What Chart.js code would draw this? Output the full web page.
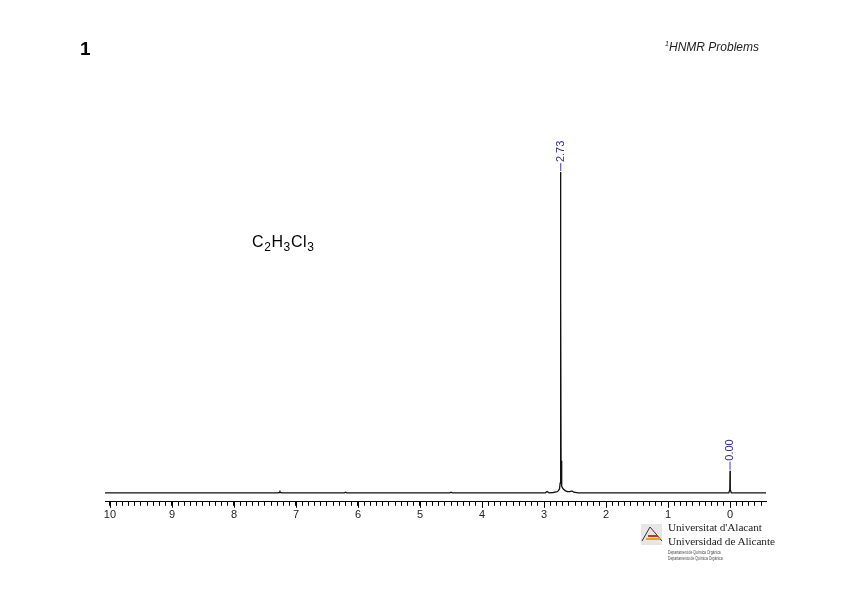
<!DOCTYPE html>
<html>
<head>
<meta charset="utf-8">
<script src="https://cdn.jsdelivr.net/npm/chart.js@4"></script>
<style>
  body { margin: 0; background: #fff; font-family: "Liberation Sans", Arial, sans-serif; }
  #wrap { position: relative; width: 848px; height: 600px; }
  canvas { position: absolute; left: 0; top: 0; }
  .txt { position: absolute; white-space: nowrap; color: #000; }
  #num { left: 80px; top: 38px; font-size: 19px; font-weight: bold; }
  #hdr { right: 89px; top: 40px; font-size: 12px; font-style: italic; color: #222; }
  #formula { left: 252px; top: 233px; font-size: 16px; letter-spacing: 0.6px; }
  #formula sub { font-size: 12px; vertical-align: -4px; }
  .uni { font-family: "Liberation Serif", "DejaVu Serif", serif; font-size: 11.3px; color: #222; left: 668px; letter-spacing: -0.1px; }
  .dept { font-size: 5px; color: #444; left: 668px; transform-origin: 0 0; transform: scaleX(0.68); }
</style>
</head>
<body>
<div id="wrap">
  <canvas id="nmr" width="848" height="600"></canvas>
  <div class="txt" id="num">1</div>
  <div class="txt" id="hdr"><sup style="font-size:7px">1</sup>HNMR Problems</div>
  <div class="txt" id="formula">C<sub>2</sub>H<sub>3</sub>Cl<sub>3</sub></div>
  <div class="txt uni" style="top:521px">Universitat d'Alacant</div>
  <div class="txt uni" style="top:535px">Universidad de Alicante</div>
  <div class="txt dept" style="top:549px">Departament de Química Orgànica</div>
  <div class="txt dept" style="top:555px">Departamento de Química Orgánica</div>
</div>
<script>
// spectrum, chemical shift (ppm) and relative intensity
const shiftPpm = [10.08, 7.30, 7.265, 7.26, 7.255, 7.22, 6.22, 6.20, 6.18, 4.52, 4.50, 4.48,
  2.98, 2.95, 2.92, 2.85, 2.78, 2.75, 2.74, 2.735, 2.731, 2.73, 2.729, 2.725, 2.72, 2.71,
  2.69, 2.66, 2.62, 2.58, 2.55, 2.52, 2.45, 0.02, 0.004, 0.0, -0.004, -0.02, -0.58];
const intensity = [0, 0, 0.001, 0.007, 0.001, 0, 0, 0.002, 0, 0, 0.002, 0,
  0, 0.004, 0, 0.001, 0.004, 0.012, 0.03, 0.1, 0.6, 1.0, 0.6, 0.1, 0.04, 0.02,
  0.012, 0.007, 0.004, 0.004, 0.006, 0.002, 0, 0, 0.01, 0.069, 0.01, 0, 0];

const peakLabels = ["2.73", "0.00"];
const peakShifts = [2.73, 0.0];
const peakHeights = [1.0, 0.069];

const majorTicks = [10, 9, 8, 7, 6, 5, 4, 3, 2, 1, 0];
const xMin = -0.58, xMax = 10.08;

const peakLabelPlugin = {
  id: "peakLabels",
  afterDraw(chart) {
    const ctx = chart.ctx;
    const xs = chart.scales.x, ys = chart.scales.y;
    ctx.save();
    // longer ticks on whole ppm
    ctx.strokeStyle = "#000";
    ctx.lineWidth = 1;
    const axisY = xs.top;
    majorTicks.forEach((v) => {
      const px = Math.round(xs.getPixelForValue(v)) + 0.5;
      ctx.beginPath();
      ctx.moveTo(px, axisY);
      ctx.lineTo(px, axisY + 6);
      ctx.stroke();
    });
    // peak picking labels
    ctx.strokeStyle = "#3a3aa8";
    ctx.fillStyle = "#2e2e9e";
    ctx.font = "11px 'Liberation Sans', Arial, sans-serif";
    peakLabels.forEach((lab, i) => {
      const px = xs.getPixelForValue(peakShifts[i]);
      const top = ys.getPixelForValue(peakHeights[i]);
      ctx.beginPath();
      ctx.moveTo(px, top - 1);
      ctx.lineTo(px, top - 9);
      ctx.stroke();
      ctx.save();
      ctx.translate(px, top - 10);
      ctx.rotate(-Math.PI / 2);
      ctx.textAlign = "left";
      ctx.textBaseline = "middle";
      ctx.fillText(lab, 0, 0);
      ctx.restore();
    });
    // university logo mark
    ctx.fillStyle = "#e6e6e6";
    ctx.fillRect(641, 524, 21, 21);
    ctx.strokeStyle = "#333";
    ctx.beginPath();
    ctx.moveTo(642, 541);
    ctx.lineTo(650, 527);
    ctx.lineTo(662, 541);
    ctx.stroke();
    ctx.fillStyle = "#d03020";
    ctx.fillRect(648, 535, 10, 2);
    ctx.fillStyle = "#f0a020";
    ctx.fillRect(646, 538, 14, 2);
    ctx.restore();
  },
};

const minorTicks = [];
for (let i = 0; i <= 106; i++) minorTicks.push(Math.round((10.0 - i * 0.1) * 10) / 10);

new Chart(document.getElementById("nmr"), {
  type: "line",
  data: {
    datasets: [
      {
        data: shiftPpm.map((x, i) => ({ x: x, y: intensity[i] })),
        borderColor: "#111",
        borderWidth: 1.3,
        pointRadius: 0,
        tension: 0,
      },
    ],
  },
  options: {
    responsive: false,
    animation: false,
    layout: { padding: { left: 105, right: 82, top: 140, bottom: 75 } },
    plugins: { legend: { display: false }, tooltip: { enabled: false } },
    scales: {
      x: {
        type: "linear",
        reverse: true,
        min: xMin,
        max: xMax,
        afterBuildTicks: (scale) => {
          scale.ticks = minorTicks.filter((v) => v >= xMin && v <= xMax).map((v) => ({ value: v }));
        },
        grid: { drawOnChartArea: false, tickLength: 4, color: "#000" },
        border: { display: true, color: "#000", width: 1 },
        ticks: {
          autoSkip: false,
          maxRotation: 0,
          padding: 3,
          color: "#222",
          font: { family: "'Liberation Sans', Arial, sans-serif", size: 11 },
          callback: (v) => (Math.abs(v - Math.round(v)) < 1e-6 ? String(Math.round(v)) : ""),
        },
      },
      y: {
        display: false,
        min: -0.028,
        max: 1.1,
      },
    },
  },
  plugins: [peakLabelPlugin],
});
</script>
</body>
</html>
